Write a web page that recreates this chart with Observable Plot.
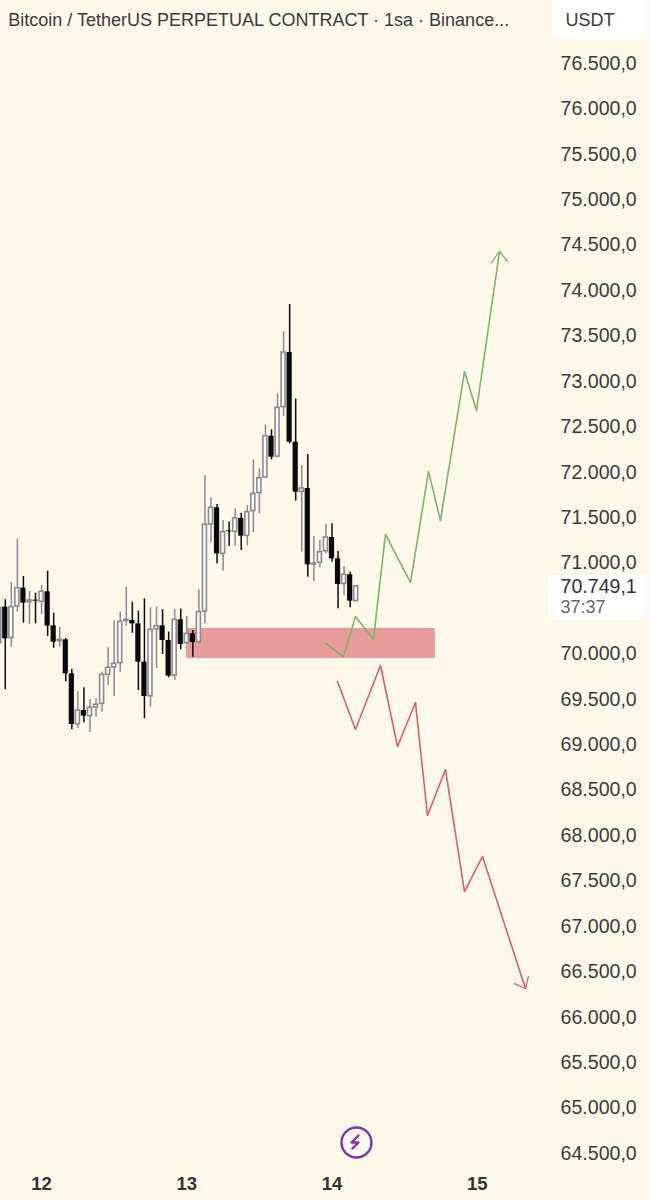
<!DOCTYPE html>
<html><head><meta charset="utf-8">
<script src="https://cdn.jsdelivr.net/npm/d3@7"></script>
<script src="https://cdn.jsdelivr.net/npm/@observablehq/plot@0.6"></script>
<style>html,body{margin:0;padding:0;background:#fcf9ea;overflow:hidden}svg{display:block}</style>
</head><body><div id="chart"></div>
<script>
// Hourly candles, hour 0 = start of day 13
const firstHour = -31;
const opens = [70118,70515,70174,70522,70724,70570,70592,70574,70684,70309,70141,70155,69781,69223,69377,69315,69410,69451,69770,69851,69898,70364,70368,70331,69909,69535,70269,70309,70148,69762,70375,70118,70221,
 70129,70467,71425,71608,71102,71355,71344,71491,71300,71572,71773,71942,72397,72173,72717,73318,72331,71784,71821,70984,71003,71131,71282,71047,70771,70871,70581];
const closes = [70508,70166,70515,70724,70559,70588,70581,70684,70306,70129,70155,69781,69223,69377,69315,69407,69440,69770,69847,69891,70353,70375,70331,69909,69531,70265,70306,70148,69755,70375,70104,70221,70126,
 70460,71421,71608,71102,71340,71344,71491,71296,71561,71762,71935,72397,72166,72709,73318,72331,71781,71821,70981,70995,71120,71282,71047,70764,70871,70581,70745];
const highs = [70588,70596,70783,71267,70852,70687,70669,70753,70911,70449,70295,70170,69829,69583,69627,69498,69506,69799,70067,70361,70460,70735,70570,70471,70607,70508,70515,70485,70240,70493,70493,70412,70258,
 70706,71964,71718,71645,71469,71451,71597,71549,71634,72137,72038,72522,72467,72863,73546,73847,72805,72074,72195,71293,71249,71425,71432,71127,70962,70900,70745];
const lows = [70110,69605,70074,70460,70339,70324,70331,70434,70192,70063,70074,69693,69164,69175,69238,69135,69304,69359,69652,69531,69799,70309,70228,69597,69285,69414,69840,69994,69737,69707,70045,70104,69964,
 70111,70331,71223,70992,70911,71186,71186,71138,71190,71333,71542,71935,72137,72155,72614,72313,71682,71120,70845,70797,70948,71102,71010,70496,70643,70507,70581];

const greenPathHours = [22.93,25.9,27.88,30.86,32.84,36.98,39.95,41.93,45.9,47.88,51.69];
const greenPathPrices = [70115,69971,70412,70159,71315,70786,72008,71469,73109,72680,74430];
const greenArrowHours = [50.36,51.69,53.0];
const greenArrowPrices = [74309,74430,74320];
const redPathHours = [24.91,27.88,32.02,34.83,37.8,39.79,42.76,45.9,48.88,55.98];
const redPathPrices = [69696,69168,69872,68981,69465,68221,68727,67384,67770,66316];
const redArrowHours = [54.16,55.98,56.46];
const redArrowPrices = [66371,66316,66448];

const priceTicks = [76500,76000,75500,75000,74500,74000,73500,73000,72500,72000,71500,71000,70000,69500,69000,68500,68000,67500,67000,66500,66000,65500,65000,64500];
const dayHours = [-24,0,24,48];
const dayLabels = ["12","13","14","15"];
const lastPrice = 70749.1;
const titleText = "Bitcoin / TetherUS PERPETUAL CONTRACT · 1sa · Binance...";

const candles = opens.map((open,i)=>({h:firstHour+i,open,close:closes[i],high:highs[i],low:lows[i]}));
const zip = (a,b)=>a.map((h,i)=>({h,p:b[i]}));
const ups = candles.filter(d=>d.close>=d.open), downs = candles.filter(d=>d.close<d.open);
const fmt = d3.formatLocale({decimal:",",thousands:".",grouping:[3],currency:["",""]}).format(",.1f");
const font = "'Liberation Sans',Arial,sans-serif";
const green="#7fb26f", red="#d8606a", grayWick="#8a8a92", black="#0a0a0a", purple="#7d35a8";
const bolt = {draw(c,s){const k=Math.sqrt(s/Math.PI)/7;c.moveTo(2*k,-7*k);c.lineTo(-5*k,0);c.lineTo(2*k,0);c.lineTo(-4*k,6*k);}};

const chart = Plot.plot({
  width:649,height:1200,marginLeft:0,marginRight:89,marginTop:0,marginBottom:27,
  style:{background:"#fcf9ea",fontFamily:font,overflow:"hidden"},
  x:{domain:[-30.79,61.77]},
  y:{domain:[64279.6,77193.6]},
  marks:[
    Plot.rect([{}],{x1:60.4,x2:76.2,y1:76764,y2:77250,fill:"#fff",rx:8}),
    Plot.rect([{}],{x1:59.8,x2:76,y1:70368,y2:70863,fill:"#fff"}),
    Plot.ruleY([lastPrice],{x1:-31,x2:59.8,stroke:"#fff",strokeOpacity:.7,strokeWidth:1,strokeDasharray:"2 2"}),
    Plot.rect([{}],{x1:-0.05,x2:41.1,y1:69949,y2:70280,fill:"#e99c9c"}),
    Plot.ruleX(ups,{x:"h",y1:"low",y2:"high",stroke:grayWick,strokeWidth:1.5}),
    Plot.ruleX(downs,{x:"h",y1:"low",y2:"high",stroke:black,strokeWidth:1.5}),
    Plot.rect(ups,{x1:d=>d.h-.33,x2:d=>d.h+.33,y1:"open",y2:"close",fill:"#fdfcf5",stroke:grayWick,strokeWidth:1.6}),
    Plot.rect(downs,{x1:d=>d.h-.43,x2:d=>d.h+.43,y1:"close",y2:"open",fill:black}),
    Plot.line(zip(greenPathHours,greenPathPrices),{x:"h",y:"p",stroke:green,strokeWidth:1.6,curve:"linear"}),
    Plot.line(zip(greenArrowHours,greenArrowPrices),{x:"h",y:"p",stroke:green,strokeWidth:1.3,curve:"linear"}),
    Plot.line(zip(redPathHours,redPathPrices),{x:"h",y:"p",stroke:red,strokeWidth:1.6,curve:"linear"}),
    Plot.line(zip(redArrowHours,redArrowPrices),{x:"h",y:"p",stroke:red,strokeWidth:1.3,curve:"linear"}),
    Plot.dot([{}],{x:28.05,y:64621,r:15,fill:"#fcf9ea",stroke:purple,strokeWidth:2.4}),
    Plot.dot([{}],{x:28.05,y:64621,r:7,symbol:bolt,fill:"none",stroke:purple,strokeWidth:2.4,strokeLinecap:"round",strokeLinejoin:"round"}),
    Plot.axisY({anchor:"right",ticks:priceTicks,tickFormat:fmt,tickSize:0,tickPadding:0,label:null,fontSize:19.6,fill:"#3b3b3b",textAnchor:"start"}),
    Plot.axisX({anchor:"bottom",ticks:dayHours,tickFormat:d=>dayLabels[dayHours.indexOf(d)],tickSize:0,tickPadding:3,label:null,fontSize:18.5,fontWeight:600,fill:"#333"}),
    Plot.text([titleText],{x:-29.5,y:76973,text:d=>d,textAnchor:"start",fontSize:18,fill:"#3a3a3a"}),
    Plot.text(["USDT"],{x:62.6,y:76973,text:d=>d,textAnchor:"start",fontSize:18,fill:"#3a3a3a"}),
    Plot.text([lastPrice],{x:61.77,y:70742,text:fmt,textAnchor:"start",fontSize:19.6,fill:"#333"}),
    Plot.text(["37:37"],{x:61.77,y:70511,text:d=>d,textAnchor:"start",fontSize:18,fill:"#666"})
  ]
});
document.getElementById("chart").append(chart);
</script></body></html>
